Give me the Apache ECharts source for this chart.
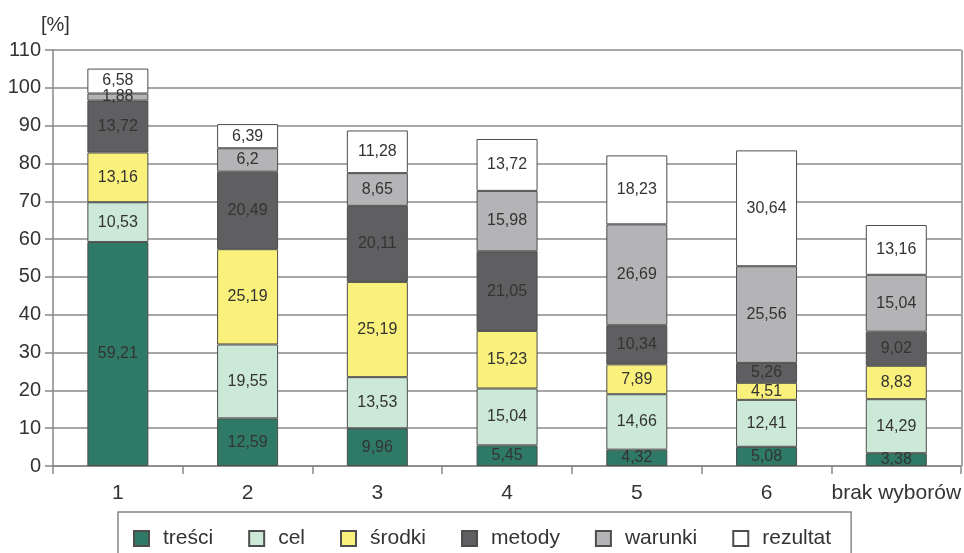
<!DOCTYPE html>
<html>
<head>
<meta charset="utf-8">
<script src="https://cdn.jsdelivr.net/npm/echarts@6/dist/echarts.min.js"></script>
<style>html,body{margin:0;padding:0;background:#fff}#c{width:964px;height:553px}</style>
</head>
<body>
<div id="c"></div>
<script>
const categories = ['1', '2', '3', '4', '5', '6', 'brak wyborów'];
const seriesNames = ['treści', 'cel', 'środki', 'metody', 'warunki', 'rezultat'];
const tresci   = [59.21, 12.59, 9.96, 5.45, 4.32, 5.08, 3.38];
const cel      = [10.53, 19.55, 13.53, 15.04, 14.66, 12.41, 14.29];
const srodki   = [13.16, 25.19, 25.19, 15.23, 7.89, 4.51, 8.83];
const metody   = [13.72, 20.49, 20.11, 21.05, 10.34, 5.26, 9.02];
const warunki  = [1.88, 6.2, 8.65, 15.98, 26.69, 25.56, 15.04];
const rezultat = [6.58, 6.39, 11.28, 13.72, 18.23, 30.64, 13.16];
const yTicks = [0, 10, 20, 30, 40, 50, 60, 70, 80, 90, 100, 110];

const values = [tresci, cel, srodki, metody, warunki, rezultat];
const colors = ['#2f7a67', '#cce8d6', '#faf07c', '#5f5f61', '#b4b4b7', '#ffffff'];

const chart = echarts.init(document.getElementById('c'), null, {renderer: 'canvas'});
const font = 'Liberation Sans, Arial, sans-serif';

chart.setOption({
  animation: false,
  backgroundColor: '#ffffff',
  textStyle: {fontFamily: font},
  title: {
    text: '[%]', left: 36, top: 10,
    textStyle: {fontSize: 20, fontWeight: 'normal', color: '#333', fontFamily: font}
  },
  grid: {left: 53, right: 2, top: 50, bottom: 87, containLabel: false},
  legend: {
    data: seriesNames,
    left: 118, top: 512,
    orient: 'horizontal',
    icon: 'rect',
    itemWidth: 15, itemHeight: 15,
    itemGap: 35,
    padding: [16, 20, 24, 15],
    borderColor: '#888', borderWidth: 1.5,
    textStyle: {fontSize: 21, color: '#333', fontFamily: font, padding: [0, 0, 0, 9]}
  },
  xAxis: {
    type: 'category',
    data: categories,
    axisLine: {show: true, lineStyle: {color: '#888', width: 1.5}},
    axisTick: {show: true, length: 8, alignWithLabel: false, interval: 0, lineStyle: {color: '#888', width: 1.5}},
    axisLabel: {fontSize: 21, color: '#333', margin: 17, interval: 0, fontFamily: font}
  },
  yAxis: {
    type: 'value',
    min: 0, max: 110, interval: 10,
    axisLine: {show: true, lineStyle: {color: '#888', width: 1.5}},
    axisTick: {show: true, length: 8, lineStyle: {color: '#888', width: 1.5}},
    axisLabel: {fontSize: 20, color: '#333', margin: 12, fontFamily: font},
    splitLine: {show: true, lineStyle: {color: '#8a8a8a', width: 1.5}}
  },
  series: seriesNames.map((name, i) => ({
    name: name,
    type: 'bar',
    stack: 'total',
    barWidth: 61,
    data: values[i],
    itemStyle: {color: colors[i], borderColor: '#4d4d4d', borderWidth: 1},
    label: {
      show: true,
      position: 'inside',
      color: '#333',
      fontSize: 16,
      fontFamily: font,
      formatter: p => String(p.value).replace('.', ',')
    }
  })),
  graphic: [{
    type: 'line',
    shape: {x1: 962, y1: 50, x2: 962, y2: 466},
    style: {stroke: '#888', lineWidth: 1.5}
  }]
});
</script>
</body>
</html>
